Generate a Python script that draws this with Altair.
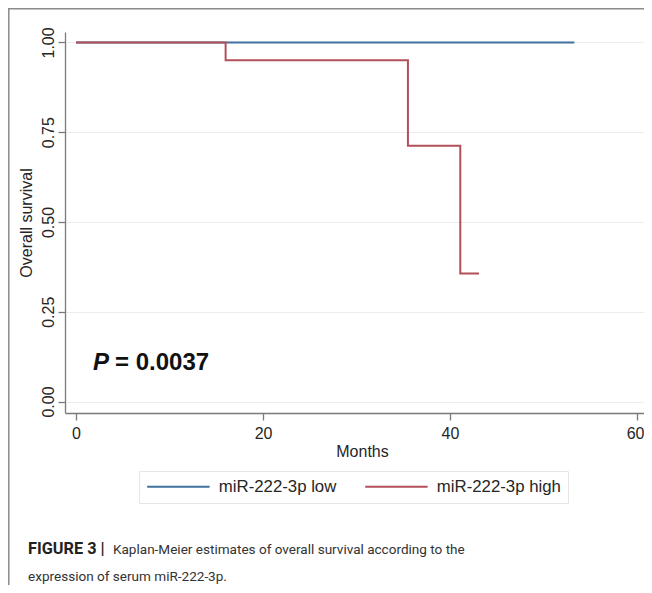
import altair as alt
import pandas as pd

# ---- data ----
groups = ["miR-222-3p low", "miR-222-3p high"]
colors = ["#41729f", "#b24f59"]

low_months = [0.0, 53.3]
low_surv = [1.0, 1.0]

high_months = [0.0, 16.0, 35.5, 41.1, 43.1]
high_surv = [1.0, 0.95, 0.7125, 0.35625, 0.35625]

x_ticks = [0, 20, 40, 60]
y_ticks = [0.0, 0.25, 0.5, 0.75, 1.0]

p_label = ["P"]
p_value = ["= 0.0037"]
caption_bold = ["FIGURE 3 |"]
caption_line1 = ["Kaplan-Meier estimates of overall survival according to the"]
caption_line2 = ["expression of serum miR-222-3p."]

FONT = "Liberation Sans"
TXT = "#262626"

rows = []
for m, s in zip(low_months, low_surv):
    rows.append({"group": groups[0], "months": m, "surv": s, "order": 0})
for m, s in zip(high_months, high_surv):
    rows.append({"group": groups[1], "months": m, "surv": s, "order": 1})
df = pd.DataFrame(rows)

xscale = alt.Scale(domain=[-1.18, 60.75], nice=False, zero=False)
yscale = alt.Scale(domain=[-0.032, 1.029], nice=False, zero=False)

lines = alt.Chart(df).mark_line(interpolate="step-after", strokeWidth=2).encode(
    x=alt.X("months:Q", scale=xscale,
            axis=alt.Axis(values=x_ticks, title="Months", grid=False,
                          tickSize=7, labelPadding=5, labelFontSize=16,
                          labelFont=FONT, labelColor=TXT,
                          labelFlush=8, labelFlushOffset=7,
                          titleFontSize=16, titleFont=FONT, titleFontWeight="normal",
                          titleColor=TXT, titleX=297, titleY=43,
                          titleBaseline="alphabetic", titleAlign="center",
                          domainColor="#7a7a7a", tickColor="#7a7a7a",
                          domainWidth=1.3, tickWidth=1.3)),
    y=alt.Y("surv:Q", scale=yscale,
            axis=alt.Axis(values=y_ticks, format=".2f", title="Overall survival",
                          grid=True, gridColor="#ececec", gridWidth=1,
                          tickSize=7, labelPadding=4.5, labelFontSize=16,
                          labelAngle=270, labelAlign="center",
                          labelBaseline="alphabetic",
                          labelFont=FONT, labelColor=TXT,
                          titleFontSize=16, titleFont=FONT, titleFontWeight="normal",
                          titleColor=TXT, titleAngle=270, titleX=-31, titleY=190.5,
                          titleBaseline="bottom", titleAlign="center",
                          domainColor="#7a7a7a", tickColor="#7a7a7a",
                          domainWidth=1.3, tickWidth=1.3)),
    color=alt.Color("group:N",
                    scale=alt.Scale(domain=groups, range=colors),
                    legend=alt.Legend(orient="none", legendX=74, legendY=439,
                                      direction="horizontal", title=None,
                                      symbolType="M-5.2,0H5.2", symbolSize=144,
                                      symbolOffset=24,
                                      symbolStrokeWidth=2, labelFontSize=16.8,
                                      labelFont=FONT, labelColor=TXT,
                                      labelOffset=32, columnPadding=24,
                                      padding=7, strokeColor="#e6e6e6",
                                      fillColor="white")),
    order=alt.Order("order:Q"),
    detail="group:N",
)

pdf = pd.DataFrame({"x": [1.82], "y": [0.108], "p": p_label, "v": p_value})
p_mark = alt.Chart(pdf).mark_text(font=FONT, fontSize=24, fontWeight="bold",
                                  fontStyle="italic", align="left",
                                  baseline="middle", color="#111").encode(
    x=alt.X("x:Q", scale=xscale), y=alt.Y("y:Q", scale=yscale), text="p:N")
v_mark = alt.Chart(pdf).mark_text(font=FONT, fontSize=24, fontWeight="bold",
                                  align="left", baseline="middle", dx=22,
                                  color="#111").encode(
    x=alt.X("x:Q", scale=xscale), y=alt.Y("y:Q", scale=yscale), text="v:N")

cdf = pd.DataFrame({"b": caption_bold, "l1": caption_line1, "l2": caption_line2})
CAPFONT = "Roboto"
cap_b = alt.Chart(cdf).mark_text(font=CAPFONT, fontSize=16.3, fontWeight="bold",
                                 align="left", baseline="alphabetic",
                                 color="#222").encode(
    x=alt.value(-37), y=alt.value(522), text="b:N")
cap_1 = alt.Chart(cdf).mark_text(font=CAPFONT, fontSize=13.55,
                                 align="left", baseline="alphabetic",
                                 color="#333").encode(
    x=alt.value(48), y=alt.value(522), text="l1:N")
cap_2 = alt.Chart(cdf).mark_text(font=CAPFONT, fontSize=13.55,
                                 align="left", baseline="alphabetic",
                                 color="#333").encode(
    x=alt.value(-37), y=alt.value(549), text="l2:N")

border_left = alt.Chart(cdf).mark_rule(color="#8a8a8a", strokeWidth=1.5).encode(
    x=alt.value(-56.2), y=alt.value(-24), y2=alt.value(600))
border_top = alt.Chart(cdf).mark_rule(color="#8a8a8a", strokeWidth=1.5).encode(
    x=alt.value(-57), x2=alt.value(600), y=alt.value(-23.2))

chart = alt.layer(lines, p_mark, v_mark, cap_b, cap_1, cap_2,
                  border_left, border_top).properties(
    width=579, height=381,
    padding={"left": 57, "top": 24, "right": 0, "bottom": 172},
    autosize=alt.AutoSizeParams(type="none"),
).configure_view(stroke=None)

chart.save("out.html", embed_options={"renderer": "svg", "actions": False})
